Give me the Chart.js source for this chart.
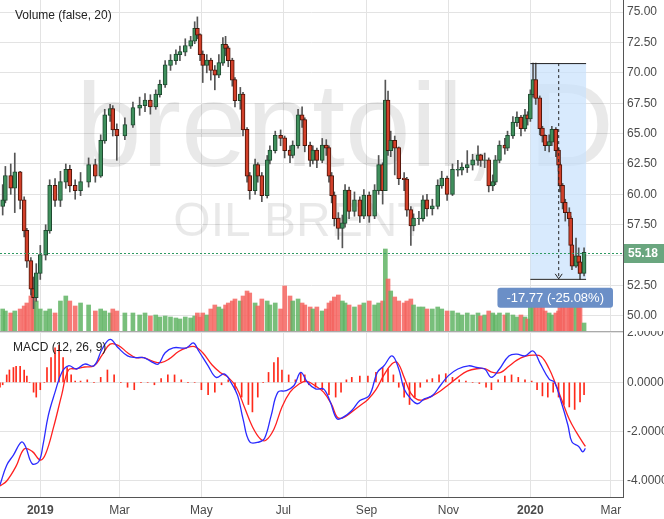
<!DOCTYPE html>
<html>
<head>
<meta charset="utf-8">
<script src="https://cdn.jsdelivr.net/npm/chart.js@4"></script>
<style>
  body { margin: 0; background: #fff; }
  #wrap { position: relative; width: 664px; height: 519px; }
  #top { position: absolute; left: 0; top: 0; }
  #bot { position: absolute; left: 0; top: 331px; }
</style>
</head>
<body>
<div id="wrap">
  <div id="top" style="width:664px;height:331px"><canvas id="priceChart"></canvas></div>
  <div id="bot" style="width:664px;height:188px"><canvas id="macdChart"></canvas></div>
</div>
<script>
// Candles: day number (0 = 1 Jan 2019), close, high, low, volume
const days = [-28,-26,-22,-19,-15,-12,-10,-7,-5,-3,0,4,7,11,15,19,22,26,30,36,41,45,48,52,54,57,63,69,74,78,82,86,89,93,97,101,104,108,112,115,117,119,121,124,127,130,133,136,138,140,143,145,149,151,154,156,160,162,165,169,171,175,179,182,186,188,192,195,197,201,203,206,210,213,215,217,219,222,225,227,230,234,238,241,245,249,252,255,257,259,261,264,267,271,273,276,278,282,285,288,292,296,299,303,307,311,314,318,322,326,328,331,334,337,339,342,346,348,352,355,358,361,363,365,367,369,372,374,376,379,381,384,386,387,389,391,394,395,396,399,401,402,405];
const closes = [59.5,61.5,60.5,61.8,59.5,57.0,54.5,52.2,51.5,53.5,55.0,57.0,60.7,59.5,61.0,62.0,60.7,60.3,61.0,62.4,61.5,64.4,66.5,67.0,65.3,64.8,65.7,67.1,67.3,67.7,67.2,68.2,69.0,70.6,71.0,71.5,71.7,72.2,72.6,73.6,73.1,71.5,70.6,71.0,70.2,69.8,70.8,72.3,72.0,71.0,69.4,67.7,68.2,65.3,61.5,60.3,62.4,61.5,59.9,62.8,63.6,64.8,64.6,63.6,63.2,64.0,66.5,66.1,64.0,62.8,63.6,62.8,64.0,63.8,61.5,59.9,58.0,57.2,57.6,60.3,58.6,59.5,58.2,59.9,58.2,60.3,62.4,60.3,67.7,63.6,64.4,63.8,61.3,61.2,58.7,57.4,58.0,58.0,59.5,58.8,59.0,60.7,61.3,60.0,62.0,62.0,62.2,62.4,62.8,63.2,62.8,62.8,60.7,61.0,62.8,64.0,63.8,64.8,65.9,66.3,65.4,66.5,66.2,68.2,69.4,67.9,65.4,64.8,64.0,64.3,65.3,63.6,62.4,60.7,59.3,58.5,58.0,55.8,54.1,54.9,54.4,53.5,55.18];
const highs = [60.8,62.3,62.5,63.4,61.9,59.8,57.2,54.8,53.2,54.3,55.8,57.5,61.2,61.3,61.9,62.5,62.4,61.2,61.8,63.0,62.9,64.9,67.0,67.4,67.3,65.8,66.3,67.6,68.0,68.3,68.2,68.6,69.4,71.0,71.5,71.9,72.2,72.8,73.0,74.2,74.6,73.2,71.8,71.5,71.2,70.6,71.5,72.9,73.0,72.2,71.2,69.6,68.8,68.4,65.5,61.8,62.9,62.6,61.8,63.2,64.0,65.2,65.3,64.8,64.0,64.4,67.0,67.2,66.3,64.3,64.0,63.8,64.6,64.5,64.0,61.8,60.2,58.5,58.3,60.8,60.6,60.2,59.8,60.4,60.2,60.8,63.2,62.6,69.4,68.5,65.2,64.8,63.9,61.8,61.4,59.0,58.4,58.6,59.9,60.0,59.6,61.2,61.9,61.5,62.5,62.8,62.6,63.6,63.3,64.0,63.3,63.4,63.0,61.6,63.2,64.4,64.6,65.2,66.4,66.8,66.5,67.0,66.8,68.6,70.8,70.8,68.1,65.6,64.9,64.9,65.6,65.5,63.8,62.6,60.9,59.6,58.9,58.2,56.2,56.4,55.6,54.6,55.6];
const lows = [58.3,59.3,60.0,58.5,58.8,56.5,54.0,51.7,50.6,51.2,53.0,54.6,56.8,59.0,59.0,60.5,60.2,59.6,59.9,60.6,61.0,61.4,64.2,66.0,64.8,62.8,64.5,65.5,66.5,66.8,66.6,67.0,68.0,68.8,70.2,70.7,71.0,71.4,72.0,72.4,72.8,71.0,69.2,70.0,69.4,68.6,69.6,70.6,71.4,70.5,68.9,67.2,67.0,64.8,61.0,59.6,60.0,61.0,59.4,59.7,62.5,63.4,64.0,63.0,62.6,63.0,63.8,65.5,63.5,62.3,62.5,62.2,62.6,63.2,61.0,59.3,57.4,56.3,55.6,57.3,58.0,58.2,57.7,58.0,57.7,58.0,60.0,59.2,62.0,63.2,63.1,61.6,60.8,60.3,58.2,55.8,57.0,57.5,57.8,58.2,58.3,58.8,60.5,59.5,59.9,61.5,61.6,61.8,62.0,62.4,62.3,62.2,60.2,60.3,60.8,62.6,63.3,63.6,64.6,65.6,64.8,65.2,65.7,66.0,68.0,67.4,64.9,64.3,63.6,63.5,64.0,63.1,61.9,60.2,58.8,57.8,57.4,55.2,53.8,54.0,53.5,53.0,53.3];
const volumes = [22,20,18,20,22,25,28,35,38,30,22,20,22,18,30,35,30,25,28,26,20,22,20,18,22,20,18,18,16,18,15,16,14,15,14,13,12,14,13,15,18,14,18,16,22,26,24,22,26,28,30,32,30,35,40,38,28,25,32,30,26,28,22,45,35,30,32,28,26,24,22,24,20,22,28,30,34,36,30,28,26,24,26,28,30,26,28,30,82,52,40,34,30,28,30,32,26,24,24,22,22,24,22,20,20,18,16,18,16,18,15,16,20,18,16,18,16,18,16,14,16,14,12,26,32,30,28,24,20,18,16,18,20,26,30,32,34,36,38,34,30,32,8];
const firstOpen = 59.0;

// MACD pane
const macdDays = [-30,-25,-20,-14,-11,-6,-1,2,6,11,16,21,27,33,40,46,52,58,65,71,77,84,88,93,99,109,114,118,125,131,137,142,147,151,156,163,167,172,177,183,189,194,199,205,211,216,221,226,232,238,245,251,256,262,267,271,276,281,286,292,298,304,311,319,325,331,336,342,349,355,361,367,372,379,383,388,393,396,401,404,406];
const macdLine = [-4.16,-3.36,-2.95,-2.42,-2.6,-3.3,-3.2,-2.55,-1.34,-0.4,0.4,0.67,0.54,0.74,0.67,1.34,1.74,1.4,1.07,1.0,1.0,0.8,0.74,1.2,1.4,1.4,1.6,1.27,0.67,0.2,0.34,0.0,-0.54,-1.48,-2.42,-2.42,-2.28,-1.34,-0.4,-0.34,-0.13,0.4,0.0,-0.27,-0.27,-0.8,-1.48,-1.4,-1.14,-0.74,-0.54,0.4,0.67,1.07,0.54,-0.27,-0.67,-0.87,-0.67,-0.54,-0.13,0.27,0.54,0.67,0.6,0.54,0.2,0.54,1.07,1.14,1.07,1.27,0.8,0.13,0.0,-0.8,-1.74,-2.42,-2.6,-2.82,-2.68];
const signalDays = [-30,-25,-18,-12,-6,0,4,10,16,21,27,33,40,46,52,58,65,71,77,84,90,96,103,109,115,121,128,134,140,146,152,158,164,168,174,180,186,192,198,205,211,217,221,225,232,238,244,250,256,262,266,271,276,281,286,292,298,304,311,318,325,331,337,343,349,355,361,367,373,379,384,389,394,399,406];
const signalLine = [-4.2,-4.0,-3.4,-2.7,-2.8,-3.15,-2.9,-1.8,-0.5,0.5,0.55,0.62,0.67,1.1,1.55,1.5,1.2,1.0,1.0,0.85,0.8,0.95,1.25,1.4,1.45,1.2,0.7,0.4,0.2,-0.2,-1.0,-1.8,-2.3,-2.35,-1.9,-1.0,-0.4,-0.1,0.05,-0.15,-0.4,-0.9,-1.4,-1.45,-1.2,-0.95,-0.7,-0.3,0.3,0.75,0.8,0.2,-0.45,-0.7,-0.7,-0.55,-0.35,-0.1,0.2,0.45,0.55,0.55,0.4,0.4,0.65,0.9,1.05,1.1,1.05,0.55,-0.1,-0.8,-1.5,-2.0,-2.6];
const histDays = [-30,-28,-25,-23,-20,-18,-15,-12,-10,-8,-5,-3,0,3,5,8,11,14,17,20,23,26,30,35,40,45,50,55,60,65,70,75,80,85,90,95,100,105,110,115,120,125,130,135,140,145,150,155,158,162,166,170,174,177,180,185,190,194,197,200,205,210,215,220,224,228,232,238,244,250,255,259,263,267,271,275,279,283,288,292,297,302,307,312,317,322,327,332,336,341,346,351,356,361,366,370,374,378,382,386,390,394,398,402,405];
const histValues = [-0.2,-0.1,0.3,0.5,0.6,0.65,0.65,0.5,0.25,0.0,-0.4,-0.6,-0.3,0.0,0.6,1.0,1.4,1.5,1.0,0.6,0.3,0.05,0.05,0.1,0.0,0.2,0.5,0.3,0.0,-0.2,-0.3,0.0,0.0,-0.1,0.15,0.3,0.3,0.1,0.0,0.0,-0.3,-0.5,-0.4,-0.1,0.1,-0.3,-0.6,-0.9,-1.2,-0.6,0.0,0.4,0.8,1.0,0.5,0.3,0.1,0.4,0.3,-0.1,-0.2,-0.3,-0.5,-0.6,-0.4,0.1,0.2,0.25,0.25,0.4,0.6,0.55,0.3,-0.2,-0.6,-0.9,-0.6,-0.2,0.1,0.15,0.3,0.35,0.2,0.1,0.05,0.0,-0.05,-0.2,-0.3,0.1,0.25,0.3,0.2,0.1,0.05,-0.3,-0.55,-0.6,-0.4,-0.6,-0.9,-1.0,-1.1,-0.8,-0.5];

// Axis ticks
const monthTicks = [0, 59, 120, 181, 243, 304, 365, 425];
const monthLabels = ['2019', 'Mar', 'May', 'Jul', 'Sep', 'Nov', '2020', 'Mar'];
const priceTicks = [50, 52.5, 55, 57.5, 60, 62.5, 65, 67.5, 70, 72.5, 75];
const macdTicks = [2, 0, -2, -4];

// Measured range and last price
const rangeStart = 365, rangeEnd = 406.5, rangeHigh = 70.8, rangeLow = 53.05;
const rangeLabel = '-17.77 (-25.08%)';
const lastPrice = 55.18;

const opens = closes.map((c, i) => i === 0 ? firstOpen : closes[i - 1]);
const isUp = closes.map((c, i) => c >= opens[i]);

const FONT = '"Liberation Sans", Arial, sans-serif';
const GRID = '#e3e3e3';
const TEXT = '#4a4a4a';

function xScale(showLabels) {
    return {
        type: 'linear', min: -30, max: 434, offset: false,
        afterBuildTicks: s => { s.ticks = monthTicks.map(v => ({ value: v })); },
        afterFit: s => { s.height = showLabels ? 22 : 0; s.paddingLeft = 0; s.paddingRight = 0; },
        grid: { color: GRID, drawTicks: false, offset: false },
        border: { display: showLabels, color: '#555' },
        ticks: {
            display: showLabels, padding: 6, color: TEXT,
            callback: (v, i) => monthLabels[i],
            font: ctx => ({ family: FONT, size: 12, weight: /^\d/.test(monthLabels[ctx.index] || '') ? 'bold' : 'normal' })
        }
    };
}

function yScale(min, max, ticks, fmt) {
    return {
        position: 'right', min: min, max: max,
        afterBuildTicks: s => { s.ticks = ticks.map(v => ({ value: v })); },
        afterFit: s => { s.width = 41; s.paddingTop = 0; s.paddingBottom = 0; },
        grid: { color: GRID, drawTicks: false },
        border: { color: '#555' },
        ticks: { color: TEXT, padding: 4, font: { family: FONT, size: 12 }, callback: fmt }
    };
}

const overlayPlugin = {
    id: 'overlay',
    beforeDatasetsDraw(chart) {
        const { ctx, chartArea: a, scales: { x, y } } = chart;
        ctx.save();
        ctx.fillStyle = 'rgba(0,0,0,0.085)';
        ctx.textAlign = 'center';
        ctx.textBaseline = 'alphabetic';
        ctx.font = '118px ' + FONT;
        ctx.fillText('brentoil, D', 345, 166);
        ctx.font = '48px ' + FONT;
        ctx.fillText('OIL BRENT', 300, 236);
        // measurement box
        const x0 = x.getPixelForValue(rangeStart), x1 = x.getPixelForValue(rangeEnd);
        const y0 = y.getPixelForValue(rangeHigh), y1 = y.getPixelForValue(rangeLow);
        ctx.fillStyle = 'rgba(200,225,252,0.7)';
        ctx.fillRect(x0, y0, x1 - x0, y1 - y0);
        ctx.restore();
    },
    afterDatasetsDraw(chart) {
        const { ctx, chartArea: a, scales: { x, y } } = chart;
        ctx.save();
        const x0 = x.getPixelForValue(rangeStart), x1 = x.getPixelForValue(rangeEnd);
        const y0 = y.getPixelForValue(rangeHigh), y1 = y.getPixelForValue(rangeLow);
        const xm = (x0 + x1) / 2;
        ctx.strokeStyle = '#222';
        ctx.lineWidth = 1;
        ctx.beginPath();
        ctx.moveTo(x0, y0 + 0.5); ctx.lineTo(x1, y0 + 0.5);
        ctx.moveTo(x0, y1 + 0.5); ctx.lineTo(x1, y1 + 0.5);
        ctx.stroke();
        ctx.setLineDash([3, 3]);
        ctx.beginPath();
        ctx.moveTo(xm + 0.5, y0); ctx.lineTo(xm + 0.5, y1);
        ctx.stroke();
        ctx.setLineDash([]);
        ctx.beginPath();
        ctx.moveTo(xm - 3, y1 - 5); ctx.lineTo(xm + 0.5, y1); ctx.lineTo(xm + 4, y1 - 5);
        ctx.stroke();
        // range label
        ctx.font = '13px ' + FONT;
        const w = ctx.measureText(rangeLabel).width + 18;
        const lx = xm - 3 - w / 2, ly = y1 + 9;
        ctx.fillStyle = '#6b8fc7';
        ctx.beginPath();
        ctx.roundRect(lx, ly, w, 20, 3);
        ctx.fill();
        ctx.fillStyle = '#fff';
        ctx.textAlign = 'center';
        ctx.textBaseline = 'middle';
        ctx.fillText(rangeLabel, xm - 3, ly + 10.5);
        // last price line and tag
        const yp = Math.round(y.getPixelForValue(lastPrice)) + 0.5;
        ctx.strokeStyle = '#2e9a62';
        ctx.setLineDash([2, 2]);
        ctx.beginPath();
        ctx.moveTo(a.left, yp); ctx.lineTo(a.right, yp);
        ctx.stroke();
        ctx.setLineDash([]);
        ctx.fillStyle = '#6aa67f';
        ctx.fillRect(a.right + 1, yp - 9.5, 41, 19);
        ctx.fillStyle = '#fff';
        ctx.font = 'bold 12px ' + FONT;
        ctx.textAlign = 'left';
        ctx.fillText(lastPrice.toFixed(2), a.right + 5, yp + 0.5);
        // pane title
        ctx.fillStyle = '#222';
        ctx.font = '12px ' + FONT;
        ctx.textBaseline = 'alphabetic';
        ctx.fillText('Volume (false, 20)', 15, 19);
        ctx.restore();
    }
};

new Chart(document.getElementById('priceChart'), {
    type: 'bar',
    data: {
        datasets: [
            {
                label: 'wick', order: 2, grouped: false, barThickness: 1,
                data: days.map((d, i) => ({ x: d, y: [lows[i], highs[i]] })),
                backgroundColor: '#555'
            },
            {
                label: 'body', order: 1, grouped: false, barThickness: 4,
                data: days.map((d, i) => ({ x: d, y: [Math.min(opens[i], closes[i]), Math.max(opens[i], closes[i]) + 0.05] })),
                backgroundColor: isUp.map(u => u ? '#3f8f5c' : '#d2402a'),
                borderColor: isUp.map(u => u ? '#1f4a30' : '#4a1409'),
                borderWidth: 1, borderSkipped: false
            },
            {
                label: 'volume', order: 3, grouped: false, barThickness: 4, yAxisID: 'v',
                data: days.map((d, i) => ({ x: d, y: volumes[i] })),
                backgroundColor: isUp.map(u => u ? 'rgba(96,180,100,0.85)' : 'rgba(245,100,95,0.85)')
            }
        ]
    },
    options: {
        responsive: true, maintainAspectRatio: false, animation: false,
        layout: { padding: 0 },
        plugins: { legend: { display: false }, tooltip: { enabled: false } },
        scales: {
            x: xScale(false),
            y: yScale(48.76, 75.99, priceTicks, v => v.toFixed(2)),
            v: { display: false, min: 0, max: 331 }
        }
    },
    plugins: [overlayPlugin]
});

const macdTitle = {
    id: 'macdTitle',
    afterDraw(chart) {
        const { ctx } = chart;
        ctx.save();
        ctx.fillStyle = '#222';
        ctx.font = '12px ' + FONT;
        ctx.fillText('MACD (12, 26, 9)', 13, 20);
        ctx.strokeStyle = '#aaa';
        ctx.beginPath();
        ctx.moveTo(0, 0.5); ctx.lineTo(chart.chartArea.right, 0.5);
        ctx.stroke();
        ctx.restore();
    }
};

new Chart(document.getElementById('macdChart'), {
    type: 'bar',
    data: {
        datasets: [
            {
                type: 'line', label: 'MACD', order: 1,
                data: macdDays.map((d, i) => ({ x: d, y: macdLine[i] })),
                borderColor: '#2b2bff', borderWidth: 1.3, pointRadius: 0, tension: 0.4
            },
            {
                type: 'line', label: 'Signal', order: 2,
                data: signalDays.map((d, i) => ({ x: d, y: signalLine[i] })),
                borderColor: '#ff2020', borderWidth: 1.3, pointRadius: 0, tension: 0.4
            },
            {
                label: 'Histogram', order: 3, barThickness: 1, grouped: false,
                data: histDays.map((d, i) => ({ x: d, y: histValues[i] })),
                backgroundColor: '#ff2a1a'
            }
        ]
    },
    options: {
        responsive: true, maintainAspectRatio: false, animation: false,
        layout: { padding: 0 },
        plugins: { legend: { display: false }, tooltip: { enabled: false } },
        scales: {
            x: xScale(true),
            y: yScale(-4.65, 2.08, macdTicks, v => v.toFixed(4))
        }
    },
    plugins: [macdTitle]
});
</script>
</body>
</html>
